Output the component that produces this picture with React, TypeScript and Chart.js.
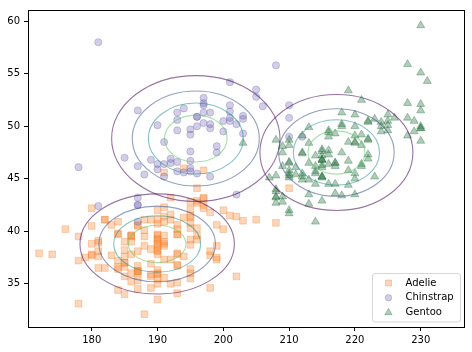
import React, { useEffect, useRef } from 'react';
import { Chart, registerables } from 'chart.js';

Chart.register(...registerables);

// [flipper length (mm), bill length (mm)]
const adelie: [number, number][] = [
  [181,39.1],[186,39.5],[195,40.3],[193,36.7],[190,39.3],[181,38.9],[195,39.2],[193,34.1],[190,42],[186,37.8],
  [180,37.8],[182,41.1],[191,38.6],[198,34.6],[185,36.6],[195,38.7],[197,42.5],[184,34.4],[194,46],[174,37.8],
  [180,37.7],[189,35.9],[185,38.2],[180,38.8],[187,35.3],[183,40.6],[187,40.5],[172,37.9],[180,40.5],[178,39.5],
  [178,37.2],[188,39.5],[184,40.9],[195,36.4],[196,39.2],[190,38.8],[180,42.2],[181,37.6],[184,39.8],[182,36.5],
  [195,40.8],[186,36],[196,44.1],[185,37],[190,39.6],[182,41.1],[179,37.5],[190,36],[191,42.3],[186,39.6],
  [188,40.1],[190,35],[200,42],[187,34.5],[191,41.4],[186,39],[193,40.6],[181,36.5],[194,37.6],[185,35.7],
  [195,41.3],[185,37.6],[192,41.1],[184,36.4],[192,41.6],[195,35.5],[188,41.1],[190,35.9],[198,41.8],[190,33.5],
  [190,39.7],[196,39.6],[197,45.8],[190,35.5],[195,42.8],[191,40.9],[184,37.2],[187,36.2],[195,42.1],[189,34.6],
  [196,42.9],[187,36.7],[193,35.1],[191,37.3],[194,41.3],[190,36.3],[189,36.9],[189,38.3],[190,38.9],[202,35.7],
  [205,41.1],[185,34],[186,39.6],[187,36.2],[208,40.8],[190,38.1],[196,40.3],[178,33.1],[192,43.2],[192,35],
  [203,41],[183,37.7],[190,37.8],[193,37.9],[184,39.7],[199,38.6],[190,38.2],[181,38.1],[197,43.2],[198,38.1],
  [191,45.6],[193,39.7],[197,42.2],[191,39.6],[196,42.7],[188,38.6],[199,37.3],[189,35.7],[189,41.1],[187,36.2],
  [198,37.7],[176,40.2],[202,41.4],[186,35.2],[199,40.6],[191,38.8],[195,41.5],[191,39],[210,44.1],[190,38.5],
  [197,43.1],[193,36.8],[199,37.5],[187,38.1],[190,41.1],[191,35.6],[200,40.2],[185,37],[193,39.7],[193,40.2],
  [187,40.6],[188,32.1],[190,40.7],[192,37.3],[185,39],[190,39.2],[184,36.6],[195,36],[193,37.8],[187,36],
  [201,41.5],
];

const chinstrap: [number, number][] = [
  [192,46.5],[196,50],[193,51.3],[188,45.4],[197,52.7],[198,45.2],[178,46.1],[197,51.3],[195,46],[198,51.3],
  [193,46.6],[194,51.7],[185,47],[201,52],[190,45.9],[201,50.5],[197,50.3],[181,58],[190,46.4],[195,49.2],
  [181,42.4],[191,48.5],[187,43.2],[193,50.6],[195,46.7],[197,52],[200,50.5],[200,49.5],[191,46.4],[205,52.8],
  [187,40.9],[201,54.2],[187,42.5],[203,51],[195,49.7],[199,47.5],[195,47.6],[210,52],[192,46.9],[205,53.5],
  [210,49],[187,46.2],[196,50.9],[196,45.5],[196,50.9],[201,50.8],[190,50.1],[212,49],[187,51.5],[198,49.8],
  [199,48.1],[201,51.4],[193,45.7],[203,50.7],[187,42.5],[197,52.2],[191,45.2],[203,49.3],[202,50.2],[194,45.6],
  [206,51.9],[189,46.8],[195,45.7],[208,55.8],[202,43.5],[193,49.6],[210,50.8],[198,50.2],
];

const gentoo: [number, number][] = [
  [211,46.1],[230,50],[210,48.7],[218,50],[215,47.6],[210,46.5],[211,45.4],[219,46.7],[209,43.3],[215,46.8],
  [214,40.9],[216,49],[214,45.5],[213,48.4],[210,45.8],[217,49.3],[210,42],[221,49.2],[209,46.2],[222,48.7],
  [218,50.2],[215,45.1],[213,46.5],[215,46.3],[215,42.9],[215,46.1],[216,44.5],[215,47.8],[210,48.2],[220,50],
  [222,47.3],[209,42.8],[207,45.1],[230,59.6],[220,49.1],[220,48.4],[213,42.6],[219,44.4],[208,44],[208,48.7],
  [208,42.7],[225,49.6],[210,45.3],[216,49.6],[222,50.5],[217,43.6],[210,45.5],[225,50.5],[213,44.9],[215,45.2],
  [210,46.6],[220,48.5],[210,45.1],[225,50.1],[217,46.5],[220,45],[208,43.8],[220,45.5],[208,43.2],[224,50.4],
  [208,45.3],[221,46.2],[214,45.7],[231,54.3],[219,45.8],[230,49.8],[214,46.2],[229,49.5],[220,43.5],[223,50.7],
  [216,47.7],[221,46.4],[221,48.2],[217,46.5],[216,46.4],[230,48.6],[209,47.5],[220,51.1],[215,45.2],[223,45.2],
  [212,49.1],[221,52.5],[212,47.4],[224,50],[212,44.9],[228,50.8],[218,43.4],[218,51.3],[212,47.5],[230,52.1],
  [218,47.5],[228,52.2],[212,45.5],[224,49.5],[214,44.5],[226,50.8],[216,49.4],[222,46.9],[203,48.4],[225,51.1],
  [219,48.5],[228,55.9],[215,47.2],[228,49.1],[216,47.3],[215,46.8],[210,41.7],[219,53.4],[208,43.3],[209,48.1],
  [229,50.5],[230,49.8],[213,43.5],[230,51.5],[217,46.2],[230,55.1],[217,44.5],[222,48.8],[214,47.2],[215,46.8],
  [222,50.4],[212,45.2],[213,49.9],
];

const speciesNames = ['Adelie', 'Chinstrap', 'Gentoo'];
const speciesStyles = ['rect', 'circle', 'triangle'];
const speciesColors = ['rgba(245,130,45,0.33)', 'rgba(112,104,178,0.32)', 'rgba(40,115,65,0.36)'];
const speciesRadius = [4.7, 3.6, 4.6];

// Gaussian fit per species (flipper mean, bill mean, flipper sd, bill sd)
const meanFlipper = [189.95, 195.82, 217.19];
const meanBill = [38.79, 48.83, 47.5];
const sdFlipper = [6.54, 7.13, 6.48];
const sdBill = [2.66, 3.34, 3.08];
const contourLevels = [0.2, 0.4, 0.6, 0.8];
const contourColors = ['rgba(68,1,84,0.55)', 'rgba(59,82,139,0.55)', 'rgba(33,145,140,0.55)', 'rgba(94,201,98,0.55)'];

const xTicks = [180, 190, 200, 210, 220, 230];
const yTicks = [35, 40, 45, 50, 55, 60];
const xMin = 170.32, xMax = 236.73;
const yMin = 30.88, yMax = 61.07;

const FONT = "10px 'DejaVu Sans'";

function drawMarker(ctx: CanvasRenderingContext2D, style: string, x: number, y: number, r: number, color: string) {
  ctx.save();
  ctx.fillStyle = color;
  ctx.strokeStyle = color;
  ctx.lineWidth = 1;
  ctx.beginPath();
  if (style === 'rect') {
    const s = r * Math.SQRT1_2;
    ctx.rect(x - s, y - s, 2 * s, 2 * s);
  } else if (style === 'circle') {
    ctx.arc(x, y, r, 0, Math.PI * 2);
  } else {
    for (let i = 0; i < 3; i++) {
      const a = (i * 2 * Math.PI) / 3;
      const px = x + Math.sin(a) * r;
      const py = y - Math.cos(a) * r;
      if (i === 0) ctx.moveTo(px, py); else ctx.lineTo(px, py);
    }
    ctx.closePath();
  }
  ctx.fill();
  ctx.stroke();
  ctx.restore();
}

const overlayPlugin = {
  id: 'overlay',
  afterDatasetsDraw(chart: any) {
    const ctx: CanvasRenderingContext2D = chart.ctx;
    const xs = chart.scales.x;
    const ys = chart.scales.y;
    ctx.save();
    for (let s = 0; s < speciesNames.length; s++) {
      const cx = xs.getPixelForValue(meanFlipper[s]);
      const cy = ys.getPixelForValue(meanBill[s]);
      contourLevels.forEach((lvl, i) => {
        const k = Math.sqrt(-2 * Math.log(lvl));
        const rx = Math.abs(xs.getPixelForValue(meanFlipper[s] + k * sdFlipper[s]) - cx);
        const ry = Math.abs(ys.getPixelForValue(meanBill[s] + k * sdBill[s]) - cy);
        ctx.beginPath();
        ctx.ellipse(cx, cy, rx, ry, 0, 0, Math.PI * 2);
        ctx.strokeStyle = contourColors[i];
        ctx.lineWidth = 1.1;
        ctx.stroke();
      });
    }
    ctx.restore();
  },
  afterDraw(chart: any) {
    const ctx: CanvasRenderingContext2D = chart.ctx;
    const a = chart.chartArea;
    ctx.save();
    // frame
    ctx.strokeStyle = '#000';
    ctx.lineWidth = 1;
    ctx.strokeRect(a.left + 0.5, a.top + 0.5, a.right - a.left - 1, a.bottom - a.top);
    // legend
    const bx = a.right - 92.5, by = a.bottom - 53.5, bw = 88, bh = 48.5;
    ctx.beginPath();
    if ((ctx as any).roundRect) (ctx as any).roundRect(bx, by, bw, bh, 2.5); else ctx.rect(bx, by, bw, bh);
    ctx.fillStyle = 'rgba(255,255,255,0.8)';
    ctx.fill();
    ctx.strokeStyle = '#d6d6d6';
    ctx.stroke();
    ctx.font = FONT;
    ctx.textBaseline = 'middle';
    ctx.textAlign = 'left';
    for (let s = 0; s < speciesNames.length; s++) {
      const yy = by + 9.5 + s * 14.8;
      drawMarker(ctx, speciesStyles[s], bx + 16, yy, speciesRadius[s] * 0.9, speciesColors[s]);
      ctx.fillStyle = '#000';
      ctx.fillText(speciesNames[s], bx + 33, yy);
    }
    ctx.restore();
  },
};

export default function App() {
  const ref = useRef<HTMLCanvasElement | null>(null);
  useEffect(() => {
    if (!ref.current) return;
    const all = [adelie, chinstrap, gentoo];
    const chart = new Chart(ref.current, {
      type: 'scatter',
      data: {
        datasets: all.map((pts, s) => ({
          label: speciesNames[s],
          data: pts.map(([fx, by]) => ({ x: fx, y: by })),
          pointStyle: speciesStyles[s] as any,
          pointRadius: speciesRadius[s],
          backgroundColor: speciesColors[s],
          borderColor: speciesColors[s],
          borderWidth: 1,
          order: 2 - s,
        })),
      },
      options: {
        responsive: false,
        animation: false,
        events: [],
        layout: { padding: { top: 7, right: 7, left: 0, bottom: 0 } },
        plugins: { legend: { display: false }, tooltip: { enabled: false } },
        scales: {
          x: {
            type: 'linear',
            min: xMin,
            max: xMax,
            border: { display: false },
            grid: { display: true, drawOnChartArea: false, drawTicks: true, tickLength: 4, color: '#000' },
            ticks: { font: { family: 'DejaVu Sans', size: 10 }, color: '#000', padding: 3, maxRotation: 0 },
            afterBuildTicks: (scale: any) => { scale.ticks = xTicks.map((v) => ({ value: v })); },
            afterFit: (scale: any) => { scale.height = 25; },
          },
          y: {
            type: 'linear',
            min: yMin,
            max: yMax,
            border: { display: false },
            grid: { display: true, drawOnChartArea: false, drawTicks: true, tickLength: 4, color: '#000' },
            ticks: { font: { family: 'DejaVu Sans', size: 10 }, color: '#000', padding: 4 },
            afterBuildTicks: (scale: any) => { scale.ticks = yTicks.map((v) => ({ value: v })); },
            afterFit: (scale: any) => { scale.width = 28; },
          },
        },
      },
      plugins: [overlayPlugin],
    });
    return () => chart.destroy();
  }, []);
  return (
    <div style={{ position: 'fixed', left: 0, top: 0, width: 472, height: 352, background: '#fff' }}>
      <canvas ref={ref} width={472} height={352} style={{ width: 472, height: 352, display: 'block' }} />
    </div>
  );
}
